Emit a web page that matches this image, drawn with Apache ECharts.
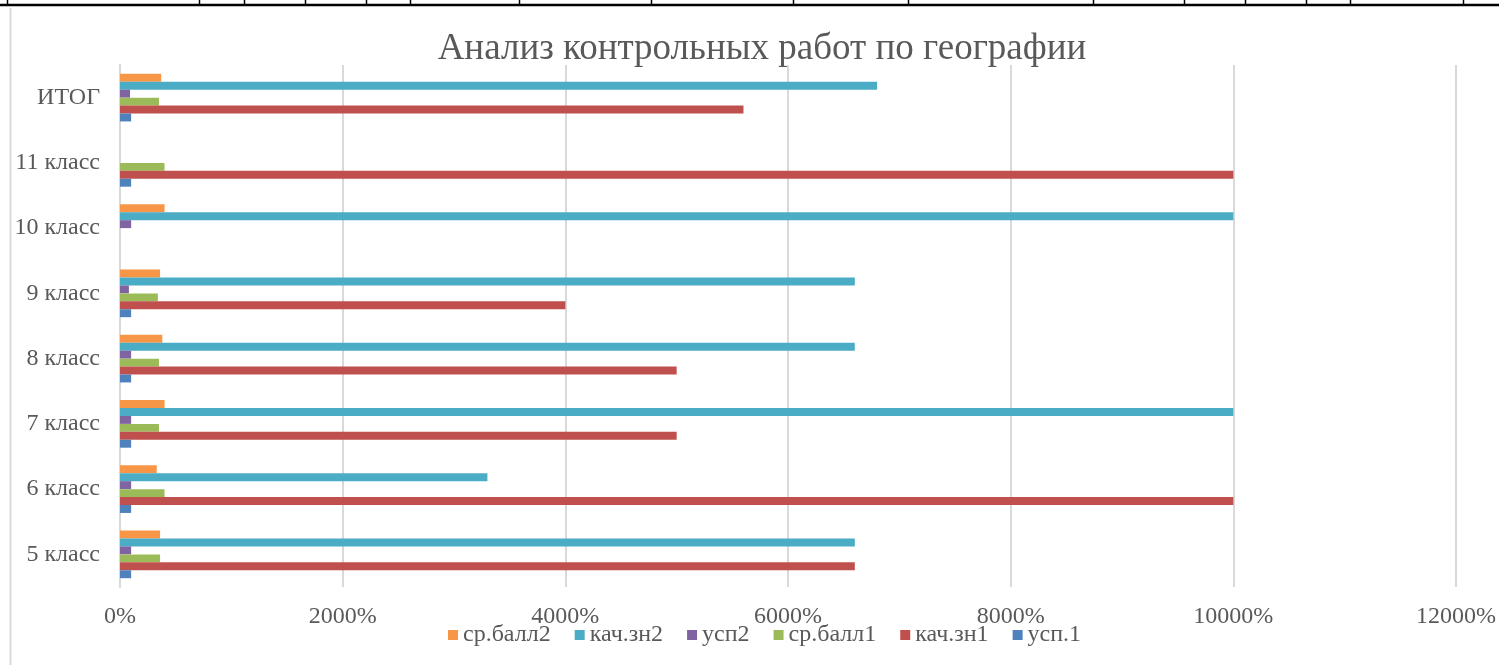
<!DOCTYPE html>
<html>
<head>
<meta charset="utf-8">
<script src="https://cdn.jsdelivr.net/npm/echarts@6/dist/echarts.min.js"></script>
<style>
html,body{margin:0;padding:0;background:#fff;}
#chart{width:1499px;height:665px;}
</style>
</head>
<body>
<div id="chart"></div>
<script>
const categories = ['5 класс','6 класс','7 класс','8 класс','9 класс','10 класс','11 класс','ИТОГ'];
const usp1     = [100, 100, 100, 100, 100, 0, 100, 100];
const kachzn1  = [6600, 10000, 5000, 5000, 4000, 0, 10000, 5600];
const srball1  = [360, 400, 350, 350, 340, 0, 400, 350];
const usp2     = [100, 100, 100, 100, 80, 100, 0, 90];
const kachzn2  = [6600, 3300, 10000, 6600, 6600, 10000, 0, 6800];
const srball2  = [360, 330, 400, 380, 360, 400, 0, 370];
const xTicks = {min: 0, max: 12000, interval: 2000};

const seriesDefs = [
  {name: 'ср.балл2', data: srball2, color: '#F79646'},
  {name: 'кач.зн2', data: kachzn2, color: '#4BACC6'},
  {name: 'усп2', data: usp2, color: '#8064A2'},
  {name: 'ср.балл1', data: srball1, color: '#9BBB59'},
  {name: 'кач.зн1', data: kachzn1, color: '#C0504D'},
  {name: 'усп.1', data: usp1, color: '#4F81BD'}
];

const font = 'Liberation Serif, Times New Roman, serif';
const txt = '#595959';

const topTicks = [7, 199, 244, 305, 366, 410, 519, 651, 793, 908, 1093, 1184, 1245, 1306, 1350, 1463];
const graphics = [
  {type: 'line', shape: {x1: 0, y1: 5, x2: 1499, y2: 5}, style: {stroke: '#000', lineWidth: 2.5}},
  {type: 'line', shape: {x1: 10.5, y1: 8, x2: 10.5, y2: 665}, style: {stroke: '#D9D9D9', lineWidth: 2}}
];
topTicks.forEach(x => graphics.push({type: 'line', shape: {x1: x + 0.5, y1: 0, x2: x + 0.5, y2: 5}, style: {stroke: '#000', lineWidth: 1.5}}));

const chart = echarts.init(document.getElementById('chart'), null, {renderer: 'canvas'});
chart.setOption({
  animation: false,
  backgroundColor: '#fff',
  graphic: graphics,
  title: {
    text: 'Анализ контрольных работ по географии',
    left: 762, top: 31, padding: 0, textAlign: 'center',
    textStyle: {fontFamily: font, fontSize: 37, fontWeight: 'normal', color: txt}
  },
  legend: {
    data: seriesDefs.map(s => s.name),
    left: 443, top: 618,
    itemWidth: 10, itemHeight: 10, itemGap: 24,
    icon: 'rect',
    textStyle: {fontFamily: font, fontSize: 24, color: txt}
  },
  grid: {left: 120, right: 42, top: 65, bottom: 78, containLabel: false},
  xAxis: {
    type: 'value', min: xTicks.min, max: xTicks.max, interval: xTicks.interval,
    axisLine: {show: false}, axisTick: {show: false},
    splitLine: {lineStyle: {color: '#D9D9D9', width: 2}},
    axisLabel: {formatter: v => v + '%', fontFamily: font, fontSize: 24, color: txt, margin: 18}
  },
  yAxis: {
    type: 'category', data: categories,
    axisLine: {lineStyle: {color: '#D9D9D9', width: 2}},
    axisTick: {show: false},
    axisLabel: {fontFamily: font, fontSize: 24, color: txt, margin: 20}
  },
  series: seriesDefs.map(s => ({
    name: s.name, type: 'bar', data: s.data,
    barGap: '0%', barCategoryGap: '27%',
    itemStyle: {color: s.color}
  }))
});
</script>
</body>
</html>
